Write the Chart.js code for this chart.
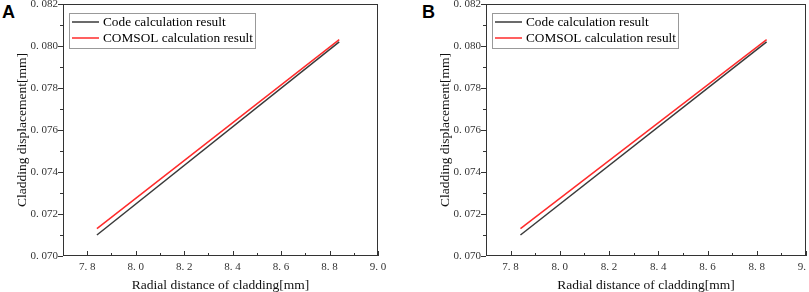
<!DOCTYPE html>
<html>
<head>
<meta charset="utf-8">
<script src="https://cdn.jsdelivr.net/npm/chart.js@4/dist/chart.umd.min.js"></script>
<style>
body{margin:0;background:#fff;width:809px;height:292px;position:relative;overflow:hidden;}
.panel{position:absolute;top:0;}
.letter{position:absolute;top:3px;font:bold 18px "Liberation Sans",Arial,sans-serif;line-height:1;color:#000;}
</style>
</head>
<body>
<div class="letter" style="left:2px">A</div>
<div class="letter" style="left:422px">B</div>
<canvas id="chartA" class="panel" style="left:0px" width="400" height="292"></canvas>
<canvas id="chartB" class="panel" style="left:400px" width="409" height="292"></canvas>
<script>
// data
const radiusA = [7.84, 8.84];
const codeA = [0.0710, 0.0802];
const comsolA = [0.0713, 0.0803];

const radiusB = [7.84, 8.84];
const codeB = [0.0710, 0.0802];
const comsolB = [0.0713, 0.0803];

const seriesNames = ["Code calculation result", "COMSOL calculation result"];
const seriesColors = ["#3a3a3a", "#ff2b2b"];

const xTickLabels = ["7.8", "8.0", "8.2", "8.4", "8.6", "8.8", "9.0"];
const yTickLabels = ["0.070", "0.072", "0.074", "0.076", "0.078", "0.080", "0.082"];

const serif = "'Liberation Serif','Times New Roman',serif";

function pts(xs, ys){
    return xs.map(function(x, i){ return {x: x, y: ys[i]}; });
}

// frame, inward x ticks, outward y ticks, boxed legend
const framePlugin = {
    id: "frame",
    afterDraw: function(chart){
        const ctx = chart.ctx;
        const a = chart.chartArea;
        const xs = chart.scales.x, ys = chart.scales.y;
        ctx.save();
        ctx.strokeStyle = "#333";
        ctx.lineWidth = 1;
        ctx.strokeRect(a.left + 0.5, a.top + 0.5, a.right - a.left - 1, a.bottom - a.top - 1);

        ctx.beginPath();
        xs.ticks.forEach(function(t){
            const px = Math.round(xs.getPixelForValue(t.value)) + 0.5;
            const major = xTickLabels.indexOf(t.value.toFixed(1)) >= 0;
            ctx.moveTo(px, a.bottom);
            ctx.lineTo(px, a.bottom - (major ? 5 : 3));
        });
        ys.ticks.forEach(function(t){
            const py = Math.round(ys.getPixelForValue(t.value)) + 0.5;
            const major = yTickLabels.indexOf(t.value.toFixed(3)) >= 0;
            ctx.moveTo(a.left, py);
            ctx.lineTo(a.left - (major ? 5 : 3), py);
        });
        ctx.stroke();

        // legend box
        const bx = a.left + 6, by = a.top + 9;
        ctx.strokeStyle = "#999";
        ctx.strokeRect(bx + 0.5, by + 0.5, 186, 35);
        ctx.font = "13.3px " + serif;
        ctx.textBaseline = "middle";
        ctx.fillStyle = "#000";
        chart.data.datasets.forEach(function(ds, i){
            const ly = by + 9 + i * 16;
            ctx.strokeStyle = ds.borderColor;
            ctx.lineWidth = 1.5;
            ctx.beginPath();
            ctx.moveTo(bx + 3, ly);
            ctx.lineTo(bx + 30, ly);
            ctx.stroke();
            ctx.fillText(ds.label, bx + 34, ly + 0.5);
        });
        ctx.restore();
    }
};

function makeChart(id, xs, code, comsol, padLeft, padRight){
    return new Chart(document.getElementById(id), {
        type: "scatter",
        data: {
            datasets: [
                {label: seriesNames[0], data: pts(xs, code), showLine: true, borderColor: seriesColors[0], borderWidth: 1.5, pointRadius: 0},
                {label: seriesNames[1], data: pts(xs, comsol), showLine: true, borderColor: seriesColors[1], borderWidth: 1.5, pointRadius: 0}
            ]
        },
        options: {
            responsive: false,
            animation: false,
            layout: {padding: {top: 4, right: padRight, bottom: 0, left: padLeft}},
            plugins: {legend: {display: false}, tooltip: {enabled: false}},
            scales: {
                x: {
                    type: "linear",
                    min: 7.7, max: 9.0,
                    grid: {display: false, drawTicks: false},
                    border: {display: false},
                    ticks: {
                        stepSize: 0.1,
                        padding: 5,
                        maxRotation: 0,
                        autoSkip: false,
                        color: "#333",
                        font: {family: serif, size: 11},
                        callback: function(v){
                            const s = v.toFixed(1);
                            return xTickLabels.indexOf(s) >= 0 ? s.replace(".", ". ") : "";
                        }
                    },
                    title: {display: true, text: "Radial distance of cladding[mm]", color: "#111",
                        font: {family: serif, size: 13.5, lineHeight: 1}, padding: 0},
                    afterFit: function(s){ s.height = 36; s.paddingLeft = 0; s.paddingRight = 0; }
                },
                y: {
                    min: 0.070, max: 0.082,
                    grid: {display: false, drawTicks: false},
                    border: {display: false},
                    ticks: {
                        stepSize: 0.001,
                        padding: 5,
                        autoSkip: false,
                        color: "#333",
                        font: {family: serif, size: 11},
                        callback: function(v){
                            const s = v.toFixed(3);
                            return yTickLabels.indexOf(s) >= 0 ? s.replace(".", ". ") : "";
                        }
                    },
                    title: {display: true, text: "Cladding displacement[mm]", color: "#111",
                        font: {family: serif, size: 13.5, lineHeight: 1.2}, padding: {top: 14, bottom: 0}},
                    afterFit: function(s){ s.width = 63; s.paddingTop = 0; s.paddingBottom = 0; }
                }
            }
        },
        plugins: [framePlugin]
    });
}

makeChart("chartA", radiusA, codeA, comsolA, 0, 22);
makeChart("chartB", radiusB, codeB, comsolB, 23, 3);
</script>
</body>
</html>
